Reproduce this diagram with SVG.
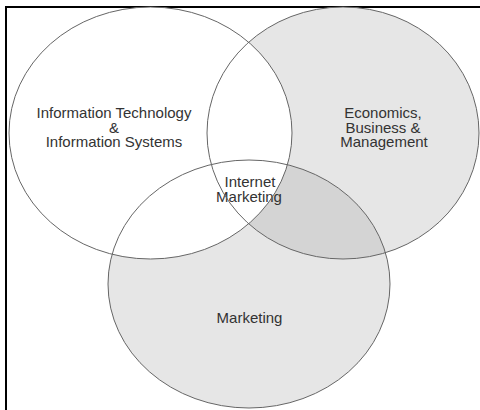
<svg xmlns="http://www.w3.org/2000/svg" width="480" height="410" viewBox="0 0 480 410">
  <style>
    .lbl { font-family: "Liberation Sans", Arial, sans-serif; font-size: 15px; fill: #333333; text-anchor: middle; }
    .outline { fill: none; stroke: #666666; stroke-width: 1; }
    .light { fill: #e6e6e6; }
  </style>
  <defs>
    <clipPath id="econClip">
      <ellipse cx="343" cy="133" rx="136" ry="126"/>
    </clipPath>
  </defs>
  <rect x="0" y="0" width="480" height="410" fill="#ffffff"/>
  <g id="frame" stroke="#000000" stroke-width="2" fill="none">
    <line x1="5" y1="7" x2="480" y2="7"/>
    <line x1="6" y1="6" x2="6" y2="410"/>
  </g>
  <g id="economics">
    <ellipse class="light" cx="343" cy="133" rx="136" ry="126"/>
    <text class="lbl" x="383" y="118">Economics,</text>
    <text class="lbl" x="383" y="132.5">Business &amp;</text>
    <text class="lbl" x="384" y="147">Management</text>
  </g>
  <g id="marketing">
    <ellipse class="light" cx="249" cy="284" rx="141" ry="124"/>
    <text class="lbl" x="249.5" y="323">Marketing</text>
  </g>
  <g id="overlap">
    <ellipse cx="249" cy="284" rx="141" ry="124" fill="#d4d4d4" clip-path="url(#econClip)"/>
  </g>
  <g id="it">
    <ellipse cx="150.5" cy="133" rx="141.5" ry="126" fill="#ffffff"/>
    <text class="lbl" x="114" y="118">Information Technology</text>
    <text class="lbl" x="114" y="132.5">&amp;</text>
    <text class="lbl" x="114" y="147">Information Systems</text>
  </g>
  <g id="internet-marketing">
    <text class="lbl" x="250" y="187">Internet</text>
    <text class="lbl" x="249" y="202">Marketing</text>
  </g>
  <g id="outlines">
    <ellipse class="outline" cx="150.5" cy="133" rx="141.5" ry="126"/>
    <ellipse class="outline" cx="343" cy="133" rx="136" ry="126"/>
    <ellipse class="outline" cx="249" cy="284" rx="141" ry="124"/>
  </g>
</svg>
